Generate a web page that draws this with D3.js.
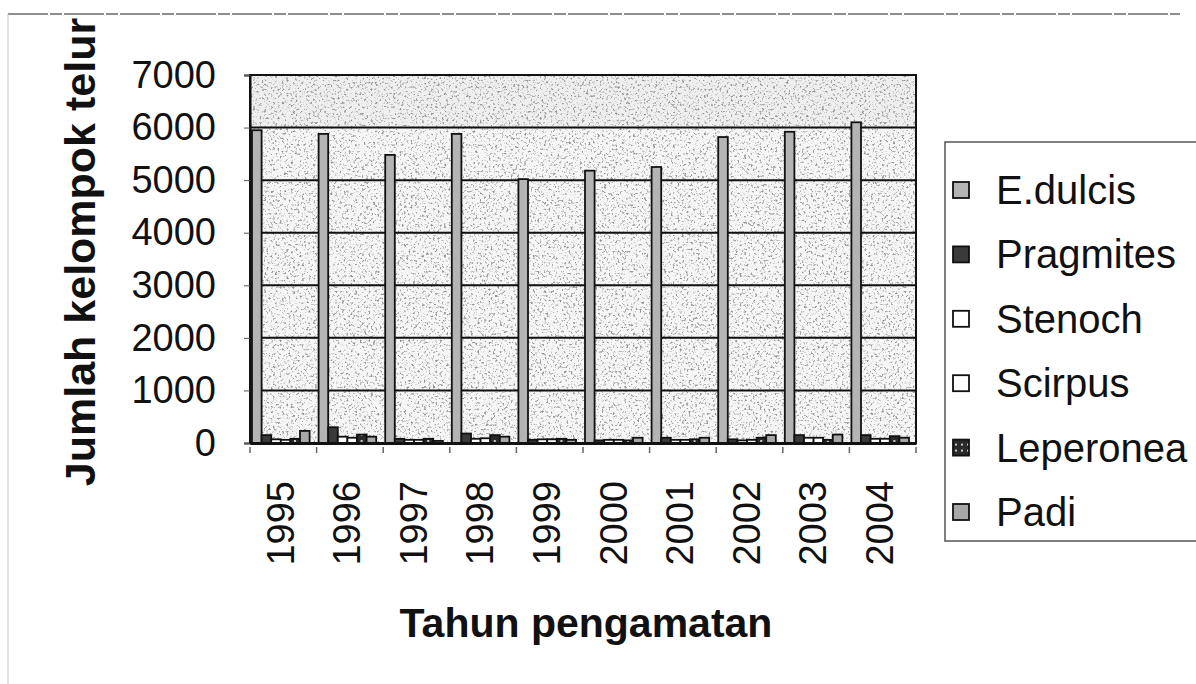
<!DOCTYPE html>
<html>
<head>
<meta charset="utf-8">
<script src="https://cdn.jsdelivr.net/npm/d3@7"></script>
<style>
  body { margin: 0; background: #fff; }
  svg { display: block; font-family: "Liberation Sans", Arial, sans-serif; }
</style>
</head>
<body>
<svg id="chart" width="1196" height="684"></svg>
<script>
// data
const years = ["1995", "1996", "1997", "1998", "1999", "2000", "2001", "2002", "2003", "2004"];
const seriesNames = ["E.dulcis", "Pragmites", "Stenoch", "Scirpus", "Leperonea", "Padi"];
const eDulcis   = [5950, 5880, 5480, 5880, 5020, 5180, 5250, 5820, 5920, 6100];
const pragmites = [150, 300, 80, 180, 60, 50, 100, 70, 150, 150];
const stenoch   = [70, 120, 60, 80, 70, 60, 60, 50, 100, 80];
const scirpus   = [60, 100, 60, 90, 70, 60, 60, 60, 100, 80];
const leperonea = [80, 160, 80, 150, 80, 50, 70, 100, 60, 130];
const padi      = [230, 120, 40, 120, 60, 100, 100, 150, 160, 100];
const yTicks = [0, 1000, 2000, 3000, 4000, 5000, 6000, 7000];

const seriesValues = [eDulcis, pragmites, stenoch, scirpus, leperonea, padi];
const fills = ["#b4b4b4", "#3a3a3a", "#ffffff", "#ffffff", "#2a2a2a", "#a8a8a8"];

const svg = d3.select("#chart");
const plot = { left: 250, right: 916, top: 75, bottom: 443 };

// faint scan borders
svg.append("line").attr("x1", 8).attr("x2", 1180).attr("y1", 14).attr("y2", 14)
    .attr("stroke", "#6a6a6a").attr("stroke-width", 1.5).attr("stroke-dasharray", "40 2 12 2");
svg.append("line").attr("x1", 8).attr("x2", 8).attr("y1", 14).attr("y2", 684)
    .attr("stroke", "#c8c8c8").attr("stroke-width", 1);

// speckle texture for the plot area
const defs = svg.append("defs");
const f = defs.append("filter").attr("id", "speckle")
    .attr("x", 0).attr("y", 0).attr("width", "100%").attr("height", "100%");
f.append("feTurbulence").attr("type", "fractalNoise").attr("baseFrequency", "0.45")
    .attr("numOctaves", 2).attr("seed", 7).attr("result", "noise");
f.append("feColorMatrix").attr("in", "noise").attr("type", "matrix")
    .attr("values", "0 0 0 0 0.3  0 0 0 0 0.3  0 0 0 0 0.3  5 0 0 0 -2.75")
    .attr("result", "dots");
f.append("feComposite").attr("in", "dots").attr("in2", "SourceGraphic").attr("operator", "in");

const pat = defs.append("pattern").attr("id", "leperDot").attr("patternUnits", "userSpaceOnUse")
    .attr("width", 6).attr("height", 6);
pat.append("rect").attr("width", 6).attr("height", 6).attr("fill", "#2a2a2a");
pat.append("circle").attr("cx", 3).attr("cy", 3).attr("r", 1).attr("fill", "#fff");

const x0 = d3.scaleBand().domain(years).range([plot.left, plot.right]);
const x1 = d3.scaleBand().domain(seriesNames).range([2, x0.bandwidth() - 7]);
const y = d3.scaleLinear().domain([0, 7000]).range([plot.bottom, plot.top]);

svg.append("rect").attr("x", plot.left).attr("y", plot.top)
    .attr("width", plot.right - plot.left).attr("height", plot.bottom - plot.top)
    .attr("fill", "#f6f6f6");
svg.append("rect").attr("x", plot.left).attr("y", y(7000))
    .attr("width", plot.right - plot.left).attr("height", y(6000) - y(7000))
    .attr("fill", "#efefef");
svg.append("rect").attr("x", plot.left).attr("y", plot.top)
    .attr("width", plot.right - plot.left).attr("height", plot.bottom - plot.top)
    .attr("fill", "#fff").attr("filter", "url(#speckle)");

// gridlines
svg.append("g").selectAll("line").data(yTicks.slice(1))
    .join("line")
    .attr("x1", plot.left).attr("x2", plot.right)
    .attr("y1", d => y(d)).attr("y2", d => y(d))
    .attr("stroke", "#111").attr("stroke-width", 2);

svg.append("rect").attr("x", plot.left).attr("y", plot.top)
    .attr("width", plot.right - plot.left).attr("height", plot.bottom - plot.top)
    .attr("fill", "none").attr("stroke", "#111").attr("stroke-width", 2);

// bars
const groups = svg.append("g").selectAll("g").data(years)
    .join("g").attr("transform", d => `translate(${x0(d)},0)`);
groups.selectAll("rect")
    .data((yr, i) => seriesNames.map((s, k) => ({ s, k, v: seriesValues[k][i] })))
    .join("rect")
    .attr("x", d => x1(d.s))
    .attr("y", d => y(d.v))
    .attr("width", x1.bandwidth())
    .attr("height", d => y(0) - y(d.v))
    .attr("fill", d => d.k === 4 ? "url(#leperDot)" : fills[d.k])
    .attr("stroke", "#111").attr("stroke-width", 1.8);

// y axis
const yAxis = svg.append("g").attr("transform", `translate(${plot.left},0)`)
    .call(d3.axisLeft(y).tickValues(yTicks).tickFormat(d3.format("d")).tickSize(6).tickPadding(28));
yAxis.select(".domain").attr("stroke", "#111").attr("stroke-width", 2);
yAxis.selectAll(".tick line").attr("stroke", "#555");
yAxis.selectAll(".tick text").attr("font-size", 38).attr("fill", "#111")
    .attr("font-family", "Liberation Sans, Arial, sans-serif");

// x axis
const xAxis = svg.append("g").attr("transform", `translate(0,${plot.bottom})`)
    .call(d3.axisBottom(x0).tickSize(0).tickPadding(0));
xAxis.select(".domain").attr("stroke", "#111").attr("stroke-width", 3);
xAxis.selectAll(".tick text")
    .attr("font-size", 38).attr("fill", "#111")
    .attr("font-family", "Liberation Sans, Arial, sans-serif")
    .attr("text-anchor", "end").attr("dy", "0.35em")
    .attr("transform", "translate(-3,38) rotate(-90)");
svg.append("g").selectAll("line").data(years.concat(["end"]))
    .join("line")
    .attr("x1", (d, i) => plot.left + i * x0.step()).attr("x2", (d, i) => plot.left + i * x0.step())
    .attr("y1", plot.bottom + 4).attr("y2", plot.bottom + 10)
    .attr("stroke", "#666").attr("stroke-width", 1.5);

// axis titles
svg.append("text").attr("transform", "translate(95,252) rotate(-90)")
    .attr("text-anchor", "middle").attr("font-size", 43).attr("font-weight", "bold")
    .attr("fill", "#111").text("Jumlah kelompok telur");
svg.append("text").attr("x", 586).attr("y", 637)
    .attr("text-anchor", "middle").attr("font-size", 41).attr("font-weight", "bold")
    .attr("fill", "#111").text("Tahun pengamatan");

// legend
svg.append("path").attr("d", "M1196,142 H945 V541 H1196")
    .attr("fill", "#fff").attr("stroke", "#555").attr("stroke-width", 1.5);
const leg = svg.append("g").selectAll("g").data(seriesNames)
    .join("g").attr("transform", (d, i) => `translate(953,${190 + i * 64.4})`);
leg.append("rect").attr("x", 0).attr("y", -8).attr("width", 16).attr("height", 16)
    .attr("fill", (d, i) => i === 4 ? "url(#leperDot)" : fills[i])
    .attr("stroke", "#111").attr("stroke-width", 1.8);
leg.append("text").attr("x", 43).attr("y", 0).attr("dy", "0.35em")
    .attr("font-size", 40).attr("fill", "#111").text(d => d);
</script>
</body>
</html>
